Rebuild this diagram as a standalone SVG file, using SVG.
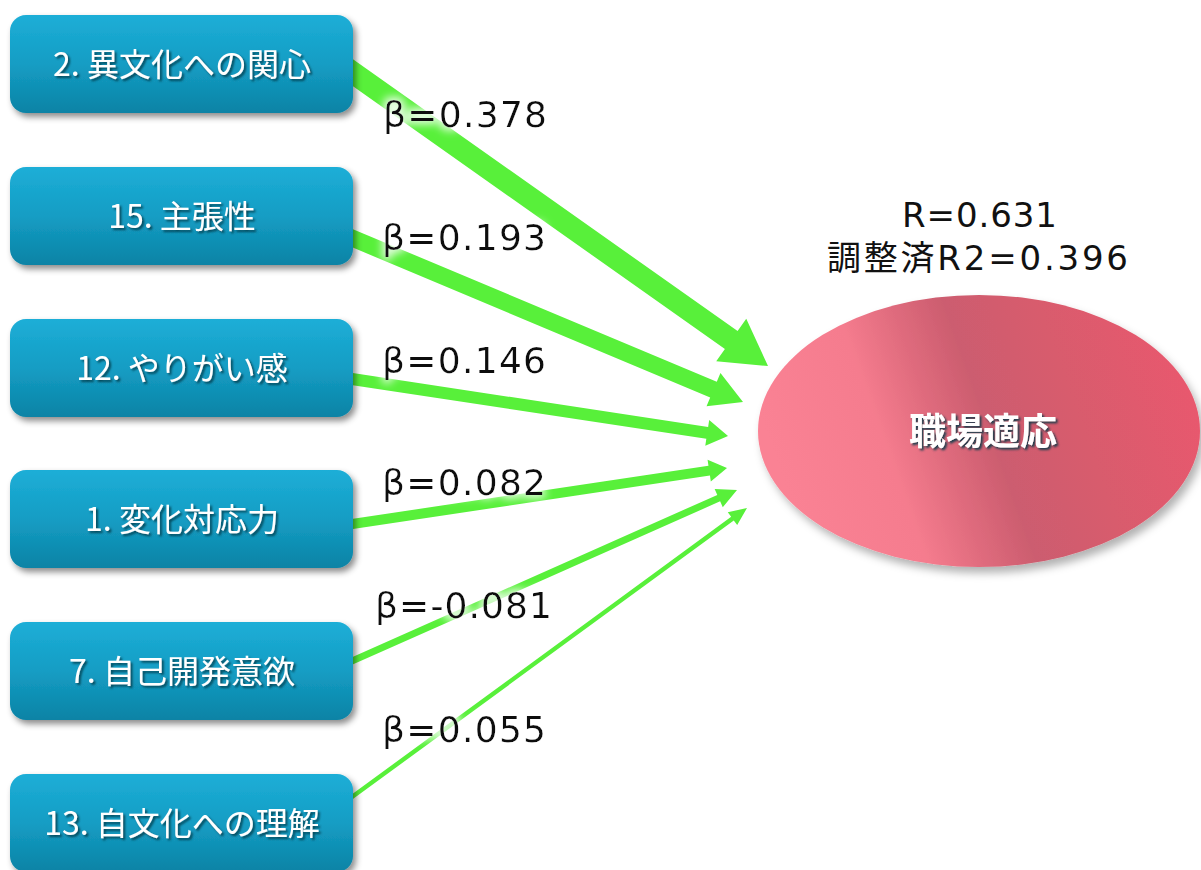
<svg xmlns="http://www.w3.org/2000/svg" width="1201" height="870" viewBox="0 0 1201 870">
<defs>
<style>
.box{fill:url(#boxg);filter:url(#bshadow)}
.bt{font-family:"Noto Sans CJK JP","Noto Sans",sans-serif;font-size:32px;fill:#fff;text-anchor:middle;filter:url(#tshadow)}
.lbl{font-family:"DejaVu Sans","Noto Sans CJK JP",sans-serif;font-size:36px;fill:#111;filter:url(#glow)}
.stat{font-family:"DejaVu Sans","Noto Sans CJK JP",sans-serif;font-size:34px;fill:#111}
.arr{fill:#58F03A}
</style>
<linearGradient id="boxg" x1="0" y1="0" x2="0" y2="1">
<stop offset="0" stop-color="#1DAED7"/>
<stop offset="0.5" stop-color="#149DC4"/>
<stop offset="1" stop-color="#0C83A5"/>
</linearGradient>
<linearGradient id="ellg" gradientUnits="userSpaceOnUse" x1="790" y1="500" x2="1180" y2="360">
<stop offset="0" stop-color="#FA8294"/>
<stop offset="0.26" stop-color="#F57C8E"/>
<stop offset="0.39" stop-color="#DF6B7D"/>
<stop offset="0.51" stop-color="#CC5D6F"/>
<stop offset="0.72" stop-color="#D85B6D"/>
<stop offset="1" stop-color="#E8596E"/>
</linearGradient>
<filter id="bshadow" x="-10%" y="-20%" width="125%" height="150%">
<feDropShadow dx="3" dy="4" stdDeviation="3" flood-color="#000" flood-opacity="0.45"/>
</filter>
<filter id="eshadow" x="-10%" y="-10%" width="125%" height="130%">
<feDropShadow dx="4" dy="6" stdDeviation="4" flood-color="#000" flood-opacity="0.3"/>
</filter>
<filter id="tshadow" x="-10%" y="-30%" width="120%" height="170%">
<feDropShadow dx="2" dy="2" stdDeviation="1.2" flood-color="#04394A" flood-opacity="0.85"/>
</filter>
<filter id="glow" x="-20%" y="-50%" width="140%" height="200%">
<feMorphology in="SourceAlpha" operator="dilate" radius="3" result="d"/>
<feGaussianBlur in="d" stdDeviation="4" result="b"/>
<feFlood flood-color="#fff" flood-opacity="0.85"/>
<feComposite in2="b" operator="in" result="g"/>
<feMerge><feMergeNode in="g"/><feMergeNode in="SourceGraphic"/></feMerge>
</filter>
</defs>
<rect width="1201" height="870" fill="#fff"/>

<g id="connectors">
<polygon class="arr" points="329.32,69.44 724.90,349.01 716.24,361.26 768,366 746.26,318.80 737.60,331.05 342.02,51.48"/>
<polygon class="arr" points="330.27,238.10 710.20,397.46 706.53,406.22 743,402 720.45,373.02 716.78,381.78 336.85,222.42"/>
<polygon class="arr" points="331.33,381.93 706.34,438.78 705.29,445.70 728,436 709.19,420.00 708.14,426.92 333.13,370.07"/>
<polygon class="arr" points="332.96,531.90 709.94,475.61 710.82,481.54 727,468 707.58,459.78 708.46,465.71 331.48,522.00"/>
<polygon class="arr" points="335.14,672.32 720.14,501.32 722.78,507.26 737,490 714.66,488.98 717.30,494.92 332.30,665.92"/>
<polygon class="arr" points="337.16,810.59 733.77,520.41 737.19,525.09 747,508 727.75,512.17 731.17,516.85 334.56,807.03"/>
</g>

<g id="labels">
<text class="lbl" x="383" y="127" textLength="164">β=0.378</text>
<text class="lbl" x="382" y="250" textLength="164">β=0.193</text>
<text class="lbl" x="382" y="373" textLength="164">β=0.146</text>
<text class="lbl" x="382" y="495" textLength="164">β=0.082</text>
<text class="lbl" x="375" y="618" textLength="177">β=-0.081</text>
<text class="lbl" x="382" y="742" textLength="164">β=0.055</text>
</g>

<g id="n2">
<rect class="box" x="10" y="15" width="343" height="98" rx="16"/>
<text class="bt" x="182" y="76">2. 異文化への関心</text>
</g>
<g id="n15">
<rect class="box" x="10" y="167" width="343" height="98" rx="16"/>
<text class="bt" x="182" y="228">15. 主張性</text>
</g>
<g id="n12">
<rect class="box" x="10" y="319" width="343" height="98" rx="16"/>
<text class="bt" x="182" y="380">12. やりがい感</text>
</g>
<g id="n1">
<rect class="box" x="10" y="470" width="343" height="98" rx="16"/>
<text class="bt" x="182" y="531">1. 変化対応力</text>
</g>
<g id="n7">
<rect class="box" x="10" y="622" width="343" height="98" rx="16"/>
<text class="bt" x="182" y="683">7. 自己開発意欲</text>
</g>
<g id="n13">
<rect class="box" x="10" y="774" width="343" height="98" rx="16"/>
<text class="bt" x="182" y="835">13. 自文化への理解</text>
</g>

<g id="target">
<ellipse cx="979" cy="431" rx="221" ry="136" fill="url(#ellg)" filter="url(#eshadow)"/>
<text x="983" y="445" font-family="'Noto Sans CJK JP',sans-serif" font-size="37" font-weight="bold" fill="#fff" text-anchor="middle" filter="url(#tshadow)">職場適応</text>
</g>

<g id="stats">
<text class="stat" x="902" y="227" textLength="155">R=0.631</text>
<text class="stat" x="827" y="270" textLength="301">調整済R2=0.396</text>
</g>
</svg>
